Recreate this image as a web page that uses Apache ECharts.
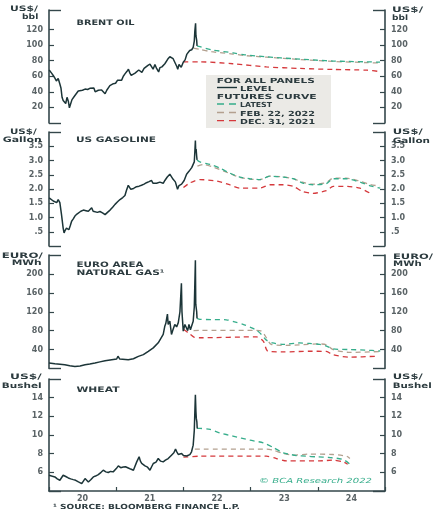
<!DOCTYPE html>
<html><head><meta charset="utf-8">
<script src="https://cdn.jsdelivr.net/npm/echarts@6/dist/echarts.min.js"></script>
<style>html,body{margin:0;padding:0;background:#fff}#c{width:434px;height:515px}</style>
</head><body><div id="c"></div>
<script>
// ---------------- DATA ----------------
const yearLabels = ['20','21','22','23','24'];
const brentTicks = [20,40,60,80,100,120];
const gasTicks = [0.5,1,1.5,2,2.5,3,3.5];
const ngTicks = [40,80,120,160,200];
const wheatTicks = [6,8,10,12,14];

const brentLevel = [['2020-01-02',68],['2020-01-09',66],['2020-01-15',64],['2020-01-24',61],['2020-02-02',57.5],['2020-02-10',54],['2020-02-20',57],['2020-02-29',50],['2020-03-06',45],['2020-03-12',33],['2020-03-18',29],['2020-03-25',27],['2020-04-01',25],['2020-04-08',33],['2020-04-15',28],['2020-04-21',19.5],['2020-04-28',22],['2020-05-05',30],['2020-05-12',30],['2020-05-20',35],['2020-05-30',37],['2020-06-08',41],['2020-06-18',42],['2020-07-01',42],['2020-07-15',43.5],['2020-07-29',43],['2020-08-10',44.5],['2020-08-20',45],['2020-09-01',45],['2020-09-08',40],['2020-09-16',41.5],['2020-09-25',42],['2020-10-05',42],['2020-10-13',42.5],['2020-10-22',41.5],['2020-11-01',37.5],['2020-11-10',42],['2020-11-19',44.5],['2020-11-27',48],['2020-12-07',49],['2020-12-16',50.5],['2020-12-28',51],['2021-01-08',55],['2021-01-18',55.5],['2021-01-30',55],['2021-02-08',60],['2021-02-17',63],['2021-02-27',66],['2021-03-08',69],['2021-03-16',64],['2021-03-23',61],['2021-04-01',63],['2021-04-13',64],['2021-04-22',66],['2021-05-03',68],['2021-05-10',69],['2021-05-20',65],['2021-06-01',70],['2021-06-10',72],['2021-06-22',74],['2021-07-03',75.5],['2021-07-12',75],['2021-07-20',69],['2021-07-30',75],['2021-08-08',70],['2021-08-19',65.5],['2021-08-26',71],['2021-09-06',72],['2021-09-15',74.5],['2021-09-22',76],['2021-09-30',78.5],['2021-10-08',82],['2021-10-19',85],['2021-10-26',86],['2021-11-06',82.5],['2021-11-15',81],['2021-11-26',72.5],['2021-12-01',69],['2021-12-08',75],['2021-12-13',74],['2021-12-20',71.5],['2021-12-31',78],['2022-01-10',81],['2022-01-19',88],['2022-01-27',89.5],['2022-02-04',93],['2022-02-15',94],['2022-02-23',97],['2022-03-01',105],['2022-03-04',118],['2022-03-08',128],['2022-03-10',112],['2022-03-12',113],['2022-03-14',106],['2022-03-16',99]];
const brentLatest = [['2022-03-16',99],['2022-04-01',98],['2022-06-01',94],['2022-09-27',90],['2022-12-01',87.5],['2023-03-28',85],['2023-06-15',83.5],['2023-09-27',82],['2024-01-01',80.5],['2024-03-25',79.5],['2024-06-15',79],['2024-09-23',78.5],['2024-12-05',78]];
const brentFeb22 = [['2022-02-25',96],['2022-04-01',94.5],['2022-06-01',91.5],['2022-09-27',88.5],['2022-12-01',86.5],['2023-03-28',84.5],['2023-09-27',81.5],['2024-03-25',79],['2024-09-23',77.5],['2024-12-05',77]];
const brentDec31 = [['2022-01-01',78.5],['2022-04-01',78.5],['2022-09-27',76],['2023-03-28',72],['2023-09-27',70],['2024-03-25',68.7],['2024-09-23',67.8],['2024-12-05',66]];

const gasLevel = [['2020-01-02',1.69],['2020-01-12',1.62],['2020-01-24',1.58],['2020-02-02',1.55],['2020-02-12',1.52],['2020-02-20',1.63],['2020-02-29',1.52],['2020-03-09',1.10],['2020-03-18',0.63],['2020-03-23',0.46],['2020-03-29',0.55],['2020-04-05',0.63],['2020-04-12',0.58],['2020-04-18',0.57],['2020-04-26',0.72],['2020-05-03',0.87],['2020-05-12',0.95],['2020-05-21',1.05],['2020-06-01',1.12],['2020-06-09',1.19],['2020-06-22',1.22],['2020-07-06',1.26],['2020-07-20',1.24],['2020-08-02',1.22],['2020-08-12',1.26],['2020-08-20',1.34],['2020-08-28',1.22],['2020-09-07',1.16],['2020-09-20',1.18],['2020-10-04',1.21],['2020-10-18',1.16],['2020-11-01',1.10],['2020-11-14',1.18],['2020-11-28',1.26],['2020-12-12',1.36],['2020-12-25',1.46],['2021-01-08',1.55],['2021-01-21',1.63],['2021-02-05',1.70],['2021-02-17',1.77],['2021-02-25',1.95],['2021-03-07',2.13],['2021-03-14',2.08],['2021-03-21',1.99],['2021-04-05',2.02],['2021-04-21',2.08],['2021-05-05',2.10],['2021-05-18',2.13],['2021-06-01',2.17],['2021-06-14',2.22],['2021-06-28',2.26],['2021-07-11',2.30],['2021-07-20',2.20],['2021-07-29',2.26],['2021-08-08',2.20],['2021-08-17',2.13],['2021-08-26',2.24],['2021-09-04',2.22],['2021-09-13',2.20],['2021-09-22',2.30],['2021-10-05',2.42],['2021-10-19',2.52],['2021-10-28',2.48],['2021-11-06',2.34],['2021-11-18',2.25],['2021-11-30',1.99],['2021-12-08',2.12],['2021-12-15',2.05],['2021-12-22',2.17],['2022-01-05',2.30],['2022-01-18',2.52],['2022-01-31',2.62],['2022-02-15',2.75],['2022-02-24',2.81],['2022-03-01',2.95],['2022-03-04',3.30],['2022-03-07',3.70],['2022-03-09',3.28],['2022-03-11',3.40],['2022-03-14',3.15],['2022-03-16',3.02]];
const gasLatest = [['2022-03-16',3.02],['2022-04-01',2.95],['2022-05-26',2.86],['2022-07-16',2.74],['2022-09-09',2.56],['2022-11-03',2.42],['2022-12-28',2.36],['2023-02-21',2.33],['2023-04-16',2.45],['2023-06-28',2.42],['2023-08-22',2.36],['2023-10-12',2.21],['2023-12-06',2.15],['2024-02-17',2.19],['2024-03-25',2.36],['2024-06-06',2.36],['2024-08-18',2.24],['2024-10-12',2.11],['2024-12-06',2.03]];
const gasFeb22 = [['2022-03-18',2.80],['2022-04-20',2.86],['2022-06-15',2.76],['2022-09-08',2.55],['2022-11-01',2.41],['2022-12-28',2.35],['2023-02-20',2.33],['2023-04-15',2.45],['2023-06-25',2.43],['2023-08-20',2.36],['2023-10-10',2.24],['2023-12-05',2.17],['2024-02-15',2.22],['2024-03-25',2.38],['2024-06-05',2.38],['2024-08-15',2.28],['2024-10-10',2.16],['2024-12-05',2.10]];
const gasDec31 = [['2022-01-01',2.05],['2022-02-01',2.20],['2022-03-01',2.28],['2022-04-01',2.33],['2022-07-01',2.28],['2022-09-09',2.15],['2022-11-03',2.03],['2023-02-21',2.03],['2023-04-16',2.15],['2023-06-28',2.15],['2023-08-22',2.09],['2023-10-12',1.91],['2023-12-06',1.85],['2024-02-17',1.94],['2024-03-25',2.09],['2024-06-06',2.09],['2024-08-18',2.03],['2024-10-12',1.85]];

const ngLevel = [['2020-01-01',11.5],['2020-02-02',10],['2020-03-01',9],['2020-03-27',7.9],['2020-04-23',6],['2020-05-21',4.3],['2020-06-18',5.5],['2020-07-15',7.9],['2020-08-10',9.5],['2020-09-07',11.5],['2020-10-04',14],['2020-11-01',16.5],['2020-12-07',18.6],['2021-01-03',20],['2021-01-10',26],['2021-01-20',20],['2021-01-30',18.6],['2021-03-07',18.6],['2021-04-04',20.7],['2021-05-01',25.7],['2021-05-28',29.3],['2021-06-24',36.4],['2021-07-21',43.6],['2021-08-17',54.3],['2021-09-13',72],['2021-09-22',90],['2021-09-27',95],['2021-10-06',115],['2021-10-10',93],['2021-10-19',100],['2021-10-28',72],['2021-11-05',82],['2021-11-15',93],['2021-11-25',88],['2021-12-04',97],['2021-12-13',120],['2021-12-21',180],['2021-12-24',120],['2021-12-31',79],['2022-01-09',93],['2022-01-18',89],['2022-01-24',80],['2022-01-31',93],['2022-02-08',82],['2022-02-14',79],['2022-02-23',100],['2022-03-01',130],['2022-03-07',229],['2022-03-09',136],['2022-03-14',120],['2022-03-16',106]];
const ngLatest = [['2022-03-16',106],['2022-04-01',104],['2022-06-01',103.5],['2022-08-22',103],['2022-10-01',99],['2022-11-21',93.5],['2023-01-01',87],['2023-02-02',81],['2023-03-01',72],['2023-03-28',60],['2023-05-01',54],['2023-06-28',51],['2023-09-24',54],['2023-11-15',53],['2024-01-11',51],['2024-02-15',48],['2024-03-25',41.5],['2024-06-24',40],['2024-09-15',39],['2024-12-06',37]];
const ngFeb22 = [['2022-02-25',80],['2022-04-01',80.5],['2023-01-15',80.5],['2023-03-01',79],['2023-03-28',65],['2023-04-23',51],['2023-07-16',49],['2023-09-24',50],['2024-01-11',52],['2024-02-17',50],['2024-03-25',40],['2024-06-24',34],['2024-12-06',36]];
const ngDec31 = [['2022-01-01',83],['2022-02-01',74],['2022-03-01',66],['2022-04-01',65],['2023-02-02',67],['2023-03-11',58],['2023-04-05',36.5],['2023-06-28',35],['2023-11-16',36.5],['2024-02-17',36],['2024-03-25',29],['2024-06-24',24],['2024-11-17',26]];

const wheatLevel = [['2020-01-01',5.69],['2020-01-15',5.6],['2020-02-02',5.51],['2020-02-15',5.3],['2020-02-29',5.15],['2020-03-18',5.69],['2020-04-01',5.55],['2020-04-15',5.4],['2020-04-28',5.3],['2020-05-12',5.22],['2020-05-25',5.15],['2020-06-09',4.97],['2020-06-27',4.79],['2020-07-15',5.33],['2020-08-02',4.97],['2020-08-15',5.2],['2020-08-29',5.51],['2020-09-10',5.6],['2020-09-25',5.76],['2020-10-10',6.0],['2020-10-22',6.23],['2020-11-05',6.05],['2020-11-18',5.98],['2020-12-01',6.1],['2020-12-15',6.05],['2021-01-01',6.4],['2021-01-12',6.69],['2021-01-25',6.5],['2021-02-08',6.58],['2021-02-20',6.6],['2021-03-07',6.47],['2021-03-20',6.35],['2021-04-04',6.23],['2021-04-22',7.12],['2021-05-05',7.66],['2021-05-12',7.2],['2021-05-19',6.95],['2021-06-06',6.69],['2021-06-20',6.55],['2021-07-03',6.23],['2021-07-12',6.6],['2021-07-21',6.95],['2021-08-05',7.1],['2021-08-17',7.48],['2021-08-30',7.2],['2021-09-13',7.12],['2021-09-25',7.3],['2021-10-10',7.48],['2021-10-28',7.84],['2021-11-10',8.1],['2021-11-19',8.48],['2021-11-26',8.2],['2021-12-04',7.91],['2021-12-13',8.1],['2021-12-22',8.02],['2022-01-01',7.8],['2022-01-09',7.66],['2022-01-18',7.75],['2022-01-27',7.84],['2022-02-05',7.9],['2022-02-14',8.2],['2022-02-23',8.91],['2022-03-01',10.5],['2022-03-07',14.3],['2022-03-10',12.5],['2022-03-12',11.78],['2022-03-15',11.4],['2022-03-17',10.7]];
const wheatLatest = [['2022-03-17',10.7],['2022-04-01',10.7],['2022-05-26',10.6],['2022-07-16',10.24],['2022-09-27',9.88],['2022-12-28',9.45],['2023-03-11',9.16],['2023-05-04',8.67],['2023-06-28',8.09],['2023-09-09',7.8],['2023-10-30',7.73],['2023-12-24',7.66],['2024-03-05',7.59],['2024-05-19',7.37],['2024-07-01',6.76]];
const wheatFeb22 = [['2022-03-04',8.48],['2023-03-28',8.48],['2023-05-04',8.37],['2023-06-28',8.02],['2023-08-22',7.84],['2023-11-16',7.95],['2024-03-25',7.91],['2024-06-06',7.73],['2024-06-24',7.48]];
const wheatDec31 = [['2022-01-01',7.62],['2022-04-01',7.73],['2023-03-28',7.73],['2023-05-22',7.48],['2023-07-16',7.23],['2024-01-11',7.23],['2024-03-25',7.3],['2024-05-19',7.12],['2024-06-12',6.87]];

// ---------------- STYLE / LAYOUT ----------------
const INK = '#2c3b3f', AXIS = '#34474b', LBL = '#5a6366';
const TEAL = '#36ad8b', TAUPE = '#b3a08f', RED = '#d5393c', LEVELC = '#1c3538';
const FONT = '"DejaVu Sans", sans-serif';
const ts = s => new Date(s + 'T00:00:00').getTime();
const toSeries = arr => arr.map(d => [ts(d[0]), d[1]]);

const panels = [
  {level: brentLevel, latest: brentLatest, feb: brentFeb22, dec: brentDec31, min: 0, max: 145, ticks: brentTicks, fmt: v => String(v)},
  {level: gasLevel, latest: gasLatest, feb: gasFeb22, dec: gasDec31, min: 0, max: 4, ticks: gasTicks, fmt: v => v < 1 ? '.5' : v.toFixed(1)},
  {level: ngLevel, latest: ngLatest, feb: ngFeb22, dec: ngDec31, min: 0, max: 240, ticks: ngTicks, fmt: v => String(v)},
  {level: wheatLevel, latest: wheatLatest, feb: wheatFeb22, dec: wheatDec31, min: 4, max: 16, ticks: wheatTicks, fmt: v => String(v)}
];
const gridTop = [10, 132, 255, 379];
const gridH = [113, 114, 113.5, 112];

const grids = [], xAxes = [], yAxes = [], series = [];
panels.forEach((p, i) => {
  grids.push({left: 49, right: 49, top: gridTop[i], height: gridH[i]});
  xAxes.push({type: 'time', gridIndex: i, min: ts('2020-01-01'), max: ts('2025-01-01'), show: false});
  const base = yAxes.length;
  ['left', 'right'].forEach(pos => {
    yAxes.push({
      type: 'value', gridIndex: i, min: p.min, max: p.max, position: pos,
      axisLine: {show: true, lineStyle: {color: AXIS, width: 1.6}},
      axisTick: {show: true, inside: true, length: 5, customValues: p.ticks, lineStyle: {color: AXIS, width: 1.2}},
      axisLabel: {show: true, customValues: p.ticks, formatter: p.fmt, margin: 6, fontSize: 8, fontWeight: 'bold', color: LBL, fontFamily: FONT},
      splitLine: {show: false}
    });
  });
  ['left', 'right'].forEach(pos => {
    yAxes.push({
      type: 'value', gridIndex: i, min: p.min, max: p.max, position: pos,
      axisLine: {show: false},
      axisTick: {show: true, inside: true, length: 12, customValues: [p.min, p.max], lineStyle: {color: AXIS, width: 1.4}},
      axisLabel: {show: false}, splitLine: {show: false}
    });
  });
  const fut = (name, data, color) => ({
    name, type: 'line', xAxisIndex: i, yAxisIndex: base, data: toSeries(data),
    showSymbol: false, symbol: 'none', smooth: 0.25, silent: true,
    lineStyle: {color, width: 1.3, type: [5, 4]}
  });
  series.push(fut('DEC. 31, 2021', p.dec, RED));
  series.push(fut('FEB. 22, 2022', p.feb, TAUPE));
  series.push(fut('LATEST', p.latest, TEAL));
  series.push({
    name: 'LEVEL', type: 'line', xAxisIndex: i, yAxisIndex: base, data: toSeries(p.level),
    showSymbol: false, symbol: 'none', silent: true,
    lineStyle: {color: LEVELC, width: 1.5}
  });
});
// year labels centred between year-boundary ticks (bottom panel only)
xAxes.push({
  type: 'category', gridIndex: 3, data: yearLabels, boundaryGap: true, position: 'bottom',
  axisLine: {show: true, lineStyle: {color: AXIS, width: 1.6}},
  axisTick: {show: true, inside: true, length: 4, lineStyle: {color: AXIS, width: 1.2}},
  axisLabel: {fontSize: 8, fontWeight: 'bold', color: LBL, margin: 4, fontFamily: FONT},
  splitLine: {show: false}
});

// text helpers: stretch text horizontally to the width seen in the reference
const mctx = document.createElement('canvas').getContext('2d');
function T(text, x, y, w, o = {}) {
  const font = o.font || ('bold 7.5px ' + FONT);
  mctx.font = font;
  const mw = mctx.measureText(text).width || 1;
  return {type: 'text', x, y, scaleX: w / mw, z: 100, silent: true,
    style: {text, font, fill: o.color || INK, align: o.align || 'left', verticalAlign: 'middle'}};
}
const LG = 'bold 7px ' + FONT;
const graphics = [
  // panel titles
  T('BRENT OIL', 76.5, 22.7, 58),
  T('US GASOLINE', 76, 140.2, 80),
  T('EURO AREA', 76.5, 265, 67),
  T('NATURAL GAS¹', 76.5, 273.5, 88),
  T('WHEAT', 76.5, 390, 43),
  // unit labels
  T('US$/', 10, 9.5, 28), T('bbl', 22, 17.5, 16.3),
  T('US$/', 392, 10, 31), T('bbl', 392, 18, 16),
  T('US$/', 10, 132, 26.7), T('Gallon', 2.7, 140, 39),
  T('US$/', 392.7, 132.5, 30), T('Gallon', 392.7, 140.8, 37.3),
  T('EURO/', 1.7, 256, 41), T('MWh', 11.7, 263.5, 30),
  T('EURO/', 393, 256.7, 40), T('MWh', 393, 264.3, 28.7),
  T('US$/', 10, 377, 31.7), T('Bushel', 1.7, 386, 40),
  T('US$/', 392.7, 377.5, 30), T('Bushel', 392.7, 385.8, 39),
  // legend box
  {type: 'rect', z: 90, silent: true, shape: {x: 206, y: 75, width: 125, height: 53}, style: {fill: '#ebeae6'}},
  T('FOR ALL PANELS', 216.7, 81, 98, {font: LG}),
  {type: 'line', z: 100, silent: true, shape: {x1: 217, y1: 87.5, x2: 237, y2: 87.5}, style: {stroke: LEVELC, lineWidth: 1.4}},
  T('LEVEL', 240, 89, 34, {font: LG}),
  T('FUTURES CURVE', 216.7, 97, 100, {font: LG}),
  {type: 'line', z: 100, silent: true, shape: {x1: 217, y1: 104, x2: 237, y2: 104}, style: {stroke: TEAL, lineWidth: 1.3, lineDash: [7, 5]}},
  T('LATEST', 240, 105.5, 32, {font: LG}),
  {type: 'line', z: 100, silent: true, shape: {x1: 217, y1: 112.5, x2: 237, y2: 112.5}, style: {stroke: TAUPE, lineWidth: 1.3, lineDash: [7, 5]}},
  T('FEB. 22, 2022', 240, 114, 75, {font: LG}),
  {type: 'line', z: 100, silent: true, shape: {x1: 217, y1: 120.7, x2: 237, y2: 120.7}, style: {stroke: RED, lineWidth: 1.3, lineDash: [7, 5]}},
  T('DEC. 31, 2021', 240, 122, 75, {font: LG}),
  // footnote & copyright
  T('¹ SOURCE: BLOOMBERG FINANCE L.P.', 53, 507.5, 187, {font: 'bold 7px ' + FONT}),
  T('© BCA Research 2022', 259, 481, 113, {font: 'italic 7px ' + FONT, color: TEAL})
];

const chart = echarts.init(document.getElementById('c'), null, {renderer: 'canvas'});
chart.setOption({
  animation: false,
  backgroundColor: '#ffffff',
  grid: grids, xAxis: xAxes, yAxis: yAxes, series,
  graphic: graphics
});
</script></body></html>
